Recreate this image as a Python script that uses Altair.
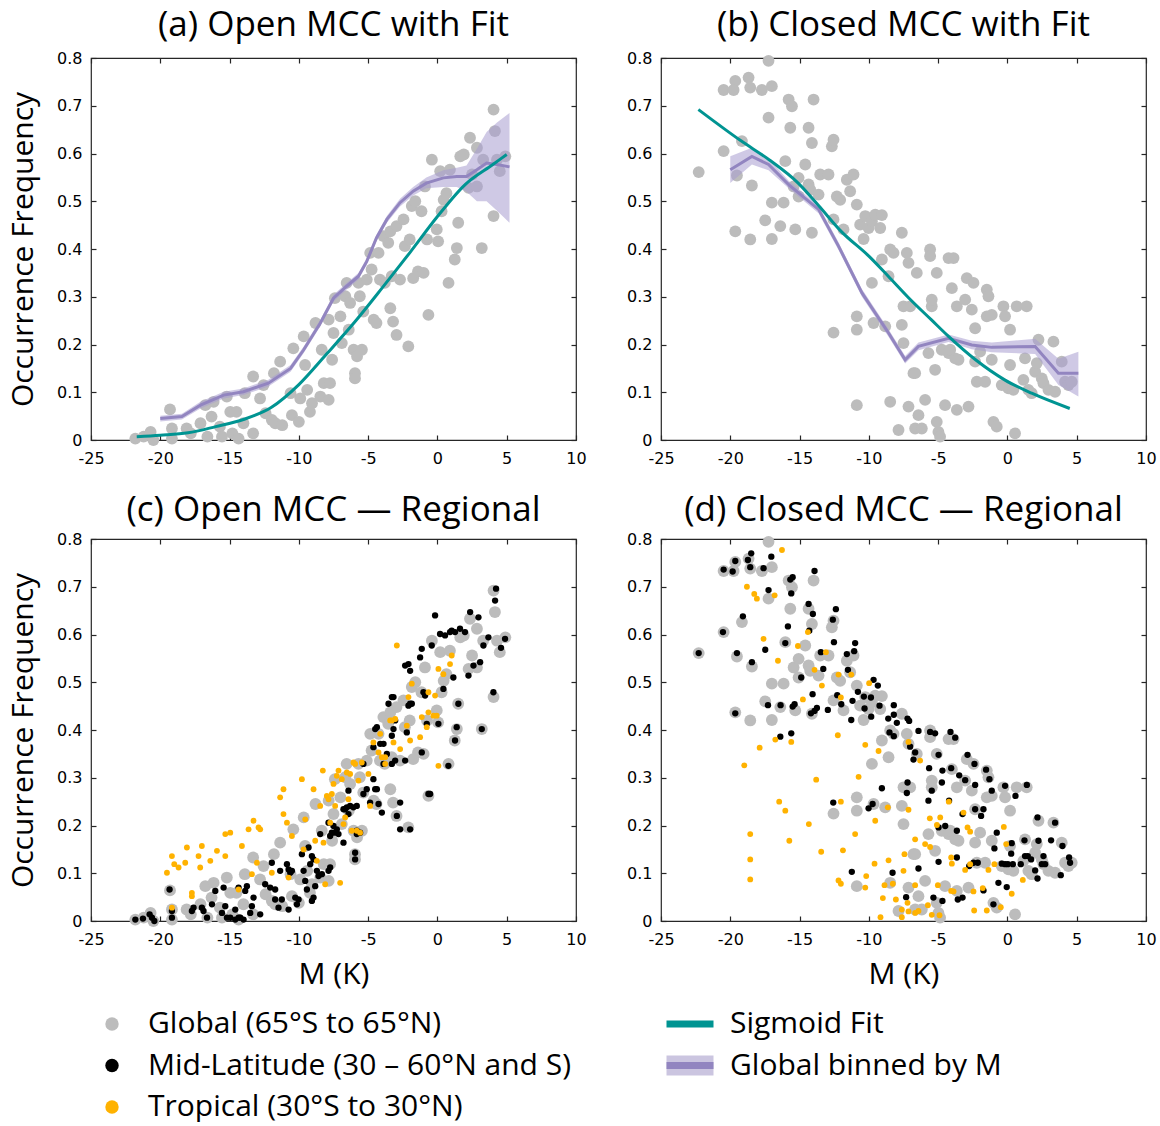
import altair as alt
import pandas as pd

# ---------------- data ----------------
# Global (65S-65N) monthly points: open MCC occurrence vs M
open_m = [-21.8, -21.2, -20.7, -20.5, -19.16, -19.3, -19.16, -18.1, -17.8, -17.1,
          -16.6, -16.75, -16.15, -16.3, -15.7, -15.55, -15.2, -14.95, -14.8, -14.5,
          -14.35, -14.0, -13.9, -13.3, -13.3, -12.8, -12.55, -12.4, -11.95, -11.8,
          -11.7, -11.35, -11.2, -10.6, -10.5, -10.4, -10.0, -9.9, -9.65, -9.55,
          -9.4, -9.2, -9.05, -8.8, -8.45, -8.35, -8.2, -7.85, -7.85, -7.75,
          -7.6, -7.5, -7.4, -7.0, -6.9, -6.65, -6.55, -6.4, -6.3, -6.05,
          -5.95, -5.95, -5.8, -5.7, -5.6, -5.45, -5.35, -5.1, -4.85, -4.75,
          -4.6, -4.4, -4.25, -4.15, -3.9, -3.8, -3.55, -3.4, -3.4, -3.3,
          -3.2, -2.95, -2.95, -2.7, -2.45, -2.35, -2.1, -2.0, -1.85, -1.75,
          -1.6, -1.4, -1.15, -1.0, -0.9, -0.75, -0.65, -0.4, -0.05, 0.05,
          0.2, 0.3, 0.45, 0.65, 0.8, 0.9, 1.25, 1.4, 1.5, 1.65,
          1.9, 2.25, 2.35, 2.5, 2.85, 2.85, 3.2, 3.3, 4.05, 4.05,
          4.15, 4.3, 4.5, 4.9]
open_f = [0.003, 0.007, 0.017, 0.0, 0.024, 0.064, 0.003, 0.024, 0.014, 0.035,
          0.007, 0.073, 0.080, 0.049, 0.028, 0.007, 0.091, 0.059, 0.014, 0.059,
          0.003, 0.035, 0.098, 0.133, 0.014, 0.087, 0.115, 0.056, 0.042, 0.140,
          0.035, 0.164, 0.031, 0.098, 0.052, 0.192, 0.038, 0.087, 0.217, 0.157,
          0.105, 0.059, 0.077, 0.245, 0.091, 0.189, 0.119, 0.084, 0.252, 0.119,
          0.168, 0.224, 0.297, 0.259, 0.203, 0.301, 0.329, 0.231, 0.287, 0.189,
          0.140, 0.129, 0.175, 0.329, 0.301, 0.189, 0.269, 0.336, 0.392, 0.357,
          0.252, 0.245, 0.392, 0.336, 0.427, 0.329, 0.413, 0.437, 0.276, 0.343,
          0.248, 0.220, 0.448, 0.336, 0.462, 0.406, 0.196, 0.420, 0.490, 0.339,
          0.500, 0.353, 0.479, 0.350, 0.531, 0.420, 0.262, 0.587, 0.441, 0.416,
          0.563, 0.479, 0.503, 0.517, 0.329, 0.566, 0.378, 0.402, 0.455, 0.594,
          0.598, 0.528, 0.633, 0.556, 0.612, 0.531, 0.402, 0.587, 0.692, 0.469,
          0.647, 0.587, 0.563, 0.594]

# Global points: closed MCC occurrence vs M
closed_m = [-22.28, -20.48, -20.48, -19.64, -19.76, -19.64, -19.52, -19.16, -18.68, -18.56,
            -18.56, -18.44, -17.72, -17.48, -17.24, -17.24, -17.0, -17.0, -17.0, -16.39,
            -16.15, -16.03, -15.79, -15.67, -15.55, -15.43, -15.31, -15.07, -15.07, -14.59,
            -14.35, -14.35, -14.23, -14.11, -14.11, -13.99, -13.63, -13.51, -12.91, -12.67,
            -12.55, -12.55, -12.55, -12.31, -12.07, -11.83, -11.59, -11.35, -11.11, -10.87,
            -10.87, -10.87, -10.87, -10.63, -10.38, -10.26, -10.02, -9.78, -9.78, -9.66,
            -9.54, -9.18, -9.06, -9.06, -8.82, -8.58, -8.46, -8.46, -8.22, -7.86,
            -7.62, -7.62, -7.5, -7.5, -7.26, -7.14, -7.14, -7.02, -6.78, -6.66,
            -6.66, -6.54, -6.42, -6.18, -5.94, -5.70, -5.58, -5.58, -5.46, -5.46,
            -5.22, -5.10, -5.10, -4.98, -4.86, -4.74, -4.50, -4.25, -4.25, -4.13,
            -4.01, -3.89, -3.77, -3.65, -3.65, -3.53, -3.05, -2.93, -2.81, -2.57,
            -2.45, -2.33, -2.33, -2.21, -1.97, -1.61, -1.49, -1.49, -1.37, -1.13,
            -1.13, -1.01, -0.77, -0.41, -0.29, -0.17, 0.07, 0.19, 0.19, 0.43,
            0.55, 0.67, 1.15, 1.27, 1.39, 1.51, 1.75, 2.0, 2.12, 2.24,
            2.48, 2.6, 2.96, 3.32, 3.44, 3.92, 4.16, 4.40, 4.64]
closed_f = [0.561, 0.733, 0.605, 0.752, 0.733, 0.437, 0.554, 0.626, 0.759, 0.738,
            0.420, 0.533, 0.733, 0.460, 0.794, 0.675, 0.741, 0.497, 0.421, 0.448,
            0.497, 0.584, 0.713, 0.654, 0.699, 0.531, 0.441, 0.510, 0.549, 0.577,
            0.535, 0.654, 0.524, 0.434, 0.622, 0.713, 0.514, 0.556, 0.556, 0.615,
            0.629, 0.462, 0.225, 0.510, 0.503, 0.441, 0.545, 0.521, 0.556, 0.493,
            0.259, 0.231, 0.073, 0.451, 0.421, 0.469, 0.444, 0.458, 0.329, 0.245,
            0.472, 0.444, 0.471, 0.378, 0.238, 0.343, 0.399, 0.080, 0.392, 0.021,
            0.241, 0.434, 0.203, 0.280, 0.392, 0.371, 0.070, 0.280, 0.140, 0.140,
            0.024, 0.350, 0.052, 0.024, 0.084, 0.182, 0.399, 0.385, 0.280, 0.294,
            0.147, 0.350, 0.038, 0.017, 0.007, 0.189, 0.073, 0.381, 0.182, 0.189,
            0.318, 0.381, 0.171, 0.280, 0.063, 0.168, 0.294, 0.339, 0.070, 0.273,
            0.329, 0.164, 0.234, 0.122, 0.185, 0.122, 0.315, 0.259, 0.301, 0.262,
            0.168, 0.038, 0.028, 0.115, 0.280, 0.259, 0.108, 0.231, 0.157, 0.105,
            0.014, 0.280, 0.126, 0.171, 0.280, 0.105, 0.098, 0.143, 0.161, 0.210,
            0.129, 0.119, 0.105, 0.206, 0.101, 0.164, 0.122, 0.115, 0.122]

# Sigmoid fits
fit_open_m = [-21.7, -20, -18, -16, -14, -12, -10, -8, -6, -4, -2, 0, 2, 4, 5]
fit_open_f = [0.007, 0.010, 0.015, 0.028, 0.043, 0.068, 0.116, 0.180, 0.246, 0.318,
              0.392, 0.468, 0.535, 0.577, 0.598]
fit_closed_m = [-22.3, -19.2, -17.2, -15.1, -13.6, -12.0, -10.0, -8.6, -7.1, -5.5,
                -4.25, -2.3, -0.2, 1.75, 4.5]
fit_closed_f = [0.692, 0.626, 0.587, 0.538, 0.490, 0.437, 0.385, 0.343, 0.297, 0.252,
                0.217, 0.168, 0.126, 0.098, 0.066]

# Global values binned by M, with spread
bin_open_m = [-20.0, -18.44, -17.1, -15.43, -14.0, -12.2, -10.6, -9.65, -8.45, -7.5,
              -6.55, -5.7, -5.1, -4.4, -3.65, -2.7, -1.75, -0.8, 0.43, 1.4,
              2.1, 2.85, 3.55, 4.3, 5.2]
bin_open_f = [0.045, 0.049, 0.073, 0.094, 0.101, 0.119, 0.150, 0.189, 0.245, 0.297,
              0.322, 0.343, 0.374, 0.423, 0.462, 0.497, 0.521, 0.538, 0.549, 0.552,
              0.552, 0.566, 0.580, 0.577, 0.572]
bin_open_lo = [0.039, 0.043, 0.066, 0.087, 0.094, 0.112, 0.143, 0.182, 0.238, 0.290,
               0.315, 0.336, 0.367, 0.416, 0.455, 0.489, 0.512, 0.527, 0.530, 0.530,
               0.520, 0.500, 0.500, 0.480, 0.455]
bin_open_hi = [0.051, 0.055, 0.080, 0.101, 0.108, 0.126, 0.157, 0.196, 0.252, 0.304,
               0.329, 0.350, 0.381, 0.430, 0.469, 0.505, 0.530, 0.550, 0.565, 0.570,
               0.575, 0.610, 0.645, 0.665, 0.685]

bin_closed_m = [-20.0, -18.44, -17.24, -15.79, -13.63, -12.19, -10.5, -8.58, -7.38, -6.42,
                -4.25, -2.57, -1.13, 2.0, 3.68, 5.12]
bin_closed_f = [0.566, 0.594, 0.577, 0.535, 0.483, 0.406, 0.308, 0.224, 0.168, 0.196,
                0.213, 0.199, 0.194, 0.196, 0.140, 0.140]
bin_closed_lo = [0.538, 0.577, 0.565, 0.527, 0.475, 0.398, 0.300, 0.216, 0.160, 0.188,
                 0.205, 0.190, 0.184, 0.180, 0.115, 0.091]
bin_closed_hi = [0.594, 0.612, 0.590, 0.543, 0.491, 0.414, 0.316, 0.232, 0.176, 0.204,
                 0.221, 0.208, 0.204, 0.212, 0.170, 0.185]

# Mid-latitude (30-60N and S) points
mid_open_m = [-21.80, -21.25, -20.77, -20.60, -20.43, -19.33, -19.16, -19.16, -17.72, -17.60,
              -17.00, -16.88, -16.63, -16.27, -16.03, -15.55, -15.43, -15.31, -15.19, -14.95,
              -14.59, -14.59, -14.35, -14.23, -13.99, -14.35, -13.87, -13.75, -13.51, -13.39,
              -13.27, -12.79, -12.43, -12.07, -11.95, -11.71, -11.71, -11.47, -11.23, -11.35,
              -10.74, -10.86, -10.74, -10.62, -10.50, -10.26, -10.14, -10.02, -9.78, -9.66,
              -9.54, -9.42, -9.30, -9.18, -9.06, -8.94, -9.06, -8.94, -8.82, -8.70,
              -8.58, -8.46, -8.34, -7.86, -7.74, -7.86, -7.74, -7.62, -7.50, -7.38,
              -7.26, -7.14, -6.78, -6.78, -6.66, -6.54, -6.42, -6.42, -6.30, -6.06,
              -5.82, -5.82, -5.94, -5.94, -5.82, -5.70, -5.58, -5.34, -5.34, -5.10,
              -4.86, -4.62, -4.49, -4.25, -4.01, -4.37, -4.62, -4.49, -4.37, -4.13,
              -3.89, -3.89, -3.65, -3.29, -3.29, -3.17, -3.05, -2.93, -2.69, -2.69,
              -2.33, -2.21, -2.09, -1.97, -2.09, -1.85, -2.33, -3.05, -3.29, -3.17,
              -3.53, -1.97, -1.13, -1.25, -1.13, -0.77, -0.53, -0.65, -0.41, -0.17,
              0.07, 0.19, 0.43, 0.55, 0.91, 1.03, 1.15, 1.27, 1.39, 1.27,
              1.51, 1.63, 1.99, 2.24, 2.36, 2.60, 2.96, 3.08, 3.32, 3.68,
              3.20, 4.04, 4.16, 4.23, 4.59, 4.88, 0.79, -1.97, -1.01, -0.89]
mid_open_f = [0.003, 0.005, 0.014, 0.007, 0.0, 0.066, 0.007, 0.021, 0.021, 0.028,
              0.028, 0.021, 0.007, 0.035, 0.063, 0.017, 0.070, 0.031, 0.007, 0.007,
              0.003, 0.024, 0.007, 0.007, 0.003, 0.070, 0.063, 0.073, 0.017, 0.031,
              0.049, 0.014, 0.077, 0.070, 0.122, 0.066, 0.045, 0.028, 0.045, 0.105,
              0.024, 0.119, 0.108, 0.101, 0.105, 0.049, 0.035, 0.045, 0.140, 0.105,
              0.084, 0.066, 0.154, 0.119, 0.136, 0.129, 0.042, 0.049, 0.073, 0.105,
              0.094, 0.182, 0.098, 0.105, 0.112, 0.206, 0.178, 0.185, 0.199, 0.185,
              0.192, 0.182, 0.164, 0.234, 0.234, 0.238, 0.273, 0.224, 0.241, 0.238,
              0.241, 0.189, 0.143, 0.129, 0.182, 0.185, 0.185, 0.329, 0.266, 0.276,
              0.248, 0.297, 0.276, 0.245, 0.227, 0.276, 0.364, 0.402, 0.406, 0.371,
              0.371, 0.329, 0.350, 0.329, 0.388, 0.402, 0.336, 0.220, 0.248, 0.192,
              0.336, 0.395, 0.451, 0.455, 0.538, 0.455, 0.535, 0.420, 0.469, 0.469,
              0.455, 0.524, 0.353, 0.552, 0.570, 0.413, 0.266, 0.266, 0.577, 0.640,
              0.413, 0.601, 0.486, 0.598, 0.605, 0.608, 0.510, 0.605, 0.406, 0.378,
              0.455, 0.612, 0.605, 0.514, 0.647, 0.535, 0.636, 0.542, 0.577, 0.594,
              0.402, 0.479, 0.671, 0.696, 0.572, 0.591, 0.325, 0.192, 0.479, 0.472]

mid_closed_m = [-22.28, -20.48, -19.83, -19.64, -18.73, -18.56, -18.49, -17.60, -17.04, -17.24,
                -15.60, -15.67, -15.50, -19.09, -20.53, -19.52, -18.44, -17.48, -16.03, -15.84,
                -14.35, -14.04, -13.92, -12.38, -12.60, -14.30, -13.46, -12.52, -13.29, -14.88,
                -14.06, -17.28, -16.37, -15.50, -15.36, -14.18, -13.92, -13.75, -12.96, -12.28,
                -11.99, -11.59, -10.99, -11.06, -11.51, -10.79, -11.18, -11.27, -10.36, -10.31,
                -9.85, -9.83, -9.66, -9.35, -9.23, -8.20, -8.60, -8.20, -7.98, -7.21,
                -7.09, -19.64, -16.39, -15.60, -8.51, -8.20, -7.02, -6.78, -6.66, -6.42,
                -5.58, -5.22, -5.65, -4.69, -4.11, -3.77, -4.97, -4.06, -3.48, -3.05,
                -2.88, -2.33, -2.38, -1.54, -1.30, -1.13, -0.17, 0.58, 1.40, -7.21,
                -7.26, -9.06, -5.70, -5.46, -4.73, -4.97, -4.49, -3.65, -3.24, -2.33,
                -1.90, -1.73, -0.77, -0.94, -0.17, 0.31, 0.27, 0.03, 0.39, 0.96,
                1.23, 1.27, 1.47, 1.71, 2.00, 2.24, 2.17, 2.60, 2.72, 2.48,
                3.15, 3.44, 3.85, 3.97, 4.45, 4.52, 2.17, -1.73, -0.65, -0.05,
                -0.41, -2.14, -2.76, -2.45, -3.65, -3.24, -3.58, -4.69, -5.34, -4.97,
                -6.42, -8.29, -11.23, -7.31, -1.01, -9.73, -10.02, -12.57, -4.21]
mid_closed_f = [0.561, 0.736, 0.732, 0.754, 0.756, 0.741, 0.770, 0.739, 0.763, 0.693,
                0.686, 0.715, 0.720, 0.638, 0.605, 0.561, 0.542, 0.568, 0.582, 0.617,
                0.664, 0.643, 0.733, 0.653, 0.631, 0.608, 0.563, 0.584, 0.528, 0.510,
                0.475, 0.452, 0.452, 0.449, 0.454, 0.435, 0.440, 0.446, 0.442, 0.473,
                0.454, 0.559, 0.582, 0.565, 0.526, 0.480, 0.461, 0.421, 0.470, 0.445,
                0.468, 0.428, 0.505, 0.493, 0.451, 0.452, 0.424, 0.432, 0.415, 0.424,
                0.419, 0.435, 0.386, 0.393, 0.395, 0.387, 0.365, 0.338, 0.353, 0.398,
                0.396, 0.393, 0.320, 0.315, 0.396, 0.384, 0.348, 0.320, 0.305, 0.295,
                0.348, 0.285, 0.329, 0.317, 0.297, 0.273, 0.283, 0.262, 0.285, 0.290,
                0.268, 0.278, 0.252, 0.273, 0.290, 0.196, 0.199, 0.189, 0.224, 0.234,
                0.220, 0.234, 0.185, 0.152, 0.119, 0.163, 0.141, 0.119, 0.119, 0.119,
                0.169, 0.136, 0.136, 0.129, 0.106, 0.168, 0.217, 0.136, 0.119, 0.119,
                0.169, 0.206, 0.096, 0.157, 0.133, 0.122, 0.089, 0.064, 0.080, 0.071,
                0.120, 0.122, 0.115, 0.122, 0.133, 0.049, 0.045, 0.042, 0.049, 0.124,
                0.110, 0.101, 0.103, 0.050, 0.035, 0.245, 0.236, 0.248, 0.252]

# Tropical (30S-30N) points
trop_open_m = [-19.52, -19.16, -18.99, -18.68, -19.16, -18.20, -18.08, -17.72, -17.72, -17.24,
               -17.12, -17.00, -16.39, -15.91, -15.31, -15.31, -14.95, -14.35, -14.11, -13.63,
               -13.27, -13.03, -12.91, -12.79, -13.39, -11.95, -11.35, -11.11, -11.11, -10.86,
               -10.74, -10.50, -9.78, -9.66, -9.54, -8.94, -8.82, -8.70, -8.46, -8.27,
               -8.22, -8.10, -7.98, -7.86, -7.74, -7.62, -7.50, -7.38, -7.26, -7.14,
               -7.02, -6.90, -6.78, -6.66, -6.54, -6.42, -6.30, -6.18, -6.06, -5.94,
               -5.82, -5.70, -5.58, -5.46, -4.98, -4.86, -4.62, -4.25, -4.13, -4.01,
               -3.77, -3.77, -3.41, -3.29, -3.17, -3.05, -2.93, -2.69, -2.21, -2.09,
               -1.97, -1.85, -1.25, -1.13, -0.77, -0.65, -0.65, -0.29, -0.17, -0.05,
               0.07, 0.07, 0.43, 0.91, 1.03]
trop_open_f = [0.101, 0.136, 0.119, 0.112, 0.028, 0.122, 0.154, 0.059, 0.052, 0.136,
               0.112, 0.157, 0.126, 0.147, 0.136, 0.182, 0.185, 0.066, 0.157, 0.192,
               0.210, 0.122, 0.196, 0.192, 0.098, 0.101, 0.259, 0.276, 0.224, 0.206,
               0.091, 0.178, 0.297, 0.150, 0.213, 0.276, 0.168, 0.126, 0.241, 0.315,
               0.164, 0.077, 0.262, 0.255, 0.206, 0.266, 0.287, 0.241, 0.304, 0.315,
               0.080, 0.297, 0.203, 0.217, 0.311, 0.255, 0.308, 0.189, 0.332, 0.329,
               0.189, 0.294, 0.185, 0.332, 0.308, 0.241, 0.374, 0.353, 0.392, 0.343,
               0.329, 0.343, 0.420, 0.420, 0.374, 0.423, 0.577, 0.360, 0.409, 0.469,
               0.378, 0.497, 0.385, 0.427, 0.406, 0.437, 0.479, 0.430, 0.472, 0.430,
               0.325, 0.528, 0.517, 0.538, 0.556]

trop_closed_m = [-16.27, -18.80, -18.27, -18.08, -16.80, -17.60, -15.12, -16.56, -14.40, -13.10,
                 -13.92, -12.19, -11.27, -13.39, -14.76, -12.02, -9.98, -12.24, -16.75, -15.60,
                 -17.88, -18.99, -10.26, -9.30, -7.14, -6.30, -13.80, -10.74, -16.47, -16.03,
                 -12.02, -8.63, -9.54, -7.14, -4.23, -5.60, -4.85, -5.09, -3.17, -2.88,
                 -2.69, -0.26, -0.09, -14.33, -18.56, -15.74, -10.99, -11.87, -13.44, -18.56,
                 -18.56, -6.66, -5.94, -5.58, -7.43, -9.59, -8.58, -4.06, -4.01, -2.69,
                 -3.05, -1.37, -0.94, 1.11, -10.19, -12.19, -12.02, -10.26, -8.87, -8.27,
                 -7.50, -6.66, -5.02, -4.06, -3.89, -2.45, -1.78, 0.31, -8.99, -8.05,
                 -7.21, -7.62, -7.14, -6.66, -6.42, -5.74, -5.46, -4.90, -2.40, -1.49,
                 -0.48, -9.16, -7.62]
trop_closed_f = [0.777, 0.700, 0.685, 0.675, 0.682, 0.591, 0.576, 0.545, 0.605, 0.563,
                 0.526, 0.516, 0.516, 0.493, 0.464, 0.468, 0.498, 0.389, 0.380, 0.375,
                 0.363, 0.326, 0.369, 0.356, 0.375, 0.336, 0.296, 0.302, 0.250, 0.231,
                 0.250, 0.238, 0.210, 0.233, 0.250, 0.215, 0.217, 0.201, 0.227, 0.196,
                 0.187, 0.197, 0.161, 0.203, 0.182, 0.168, 0.182, 0.148, 0.145, 0.129,
                 0.087, 0.171, 0.161, 0.155, 0.140, 0.120, 0.127, 0.133, 0.120, 0.119,
                 0.107, 0.107, 0.119, 0.086, 0.094, 0.085, 0.078, 0.070, 0.075, 0.078,
                 0.105, 0.075, 0.075, 0.063, 0.062, 0.062, 0.069, 0.057, 0.048, 0.045,
                 0.038, 0.024, 0.020, 0.017, 0.021, 0.033, 0.013, 0.012, 0.022, 0.022,
                 0.029, 0.008, 0.008]

# Axis ticks and labels
x_ticks = [-25, -20, -15, -10, -5, 0, 5, 10]
y_ticks = [0, 0.1, 0.2, 0.3, 0.4, 0.5, 0.6, 0.7, 0.8]
panel_titles = ["(a) Open MCC with Fit", "(b) Closed MCC with Fit",
                "(c) Open MCC \u2014 Regional", "(d) Closed MCC \u2014 Regional"]
y_title = "Occurrence Frequency"
x_title = "M (K)"
region_labels = ["Global (65\u00b0S to 65\u00b0N)", "Mid-Latitude (30 \u2013 60\u00b0N and S)",
                 "Tropical (30\u00b0S to 30\u00b0N)"]
line_labels = ["Sigmoid Fit", "Global binned by M"]

# ---------------- styling ----------------
GRAY = "#bcbcbc"
BLACK = "#000000"
ORANGE = "#ffb200"
TEAL = "#009492"
PURPLE = "#9285c0"
BAND = "#a89ccf"
BAND_KEY = "#cbc5e0"
FRAME = "#262626"
TEXT_FONT = "Open Sans"
TICK_FONT = "DejaVu Sans"
TICK = 5
W, H = 485, 382

XS = alt.Scale(domain=[-25, 10], nice=False, zero=False)
YS = alt.Scale(domain=[0, 0.8], nice=False, zero=False)


def main_x_axis():
    return alt.Axis(orient="bottom", values=x_ticks, offset=-TICK, tickSize=TICK, domain=False,
                    grid=False, labelFlush=False, labelExpr="datum.value + ''",
                    labelFont=TICK_FONT, labelFontSize=16, labelColor="black", labelPadding=10,
                    tickColor=FRAME, tickWidth=1.2, titleFont=TEXT_FONT, titleFontSize=30,
                    titleFontWeight="normal", titleColor="black", titlePadding=12,
                    minExtent=0)


def main_y_axis():
    return alt.Axis(orient="left", values=y_ticks, offset=-TICK, tickSize=TICK, domain=False,
                    grid=False, labelExpr="datum.value + ''",
                    labelFont=TICK_FONT, labelFontSize=16, labelColor="black", labelPadding=9,
                    tickColor=FRAME, tickWidth=1.2, titleFont=TEXT_FONT, titleFontSize=30,
                    titleFontWeight="normal", titleColor="black", titlePadding=18,
                    minExtent=0)


def mirror_axis(orient, vals):
    # inward ticks on the opposite edges of the frame, no labels
    return alt.Axis(orient=orient, values=vals, offset=-TICK, tickSize=TICK, domain=False,
                    grid=False, labels=False, tickColor=FRAME, tickWidth=1.2,
                    minExtent=0, maxExtent=0)


def panel(title, offset, show_x, show_y, layers_spec):
    """layers_spec: list of (DataFrame, kind, style) drawn in order."""
    charts = []
    for i, (df, kind, style) in enumerate(layers_spec):
        if i == 0:
            x = alt.X("m:Q", scale=XS, axis=main_x_axis(), title=x_title if show_x else None)
            y = alt.Y("f:Q", scale=YS, axis=main_y_axis(), title=y_title if show_y else None)
        elif i == len(layers_spec) - 1:
            x = alt.X("m:Q", scale=XS, axis=mirror_axis("top", x_ticks), title=None)
            y = alt.Y("f:Q", scale=YS, axis=mirror_axis("right", y_ticks), title=None)
        else:
            x = alt.X("m:Q", scale=XS, axis=None)
            y = alt.Y("f:Q", scale=YS, axis=None)
        base = alt.Chart(df)
        if kind == "pts":
            c = base.mark_circle(color=style[0], size=style[1], opacity=1).encode(x=x, y=y)
        elif kind == "band":
            c = base.mark_area(color=BAND, opacity=0.55).encode(
                x=x, y=alt.Y("lo:Q", scale=YS, axis=None), y2="hi:Q")
        elif kind == "fit":
            c = base.mark_line(color=style, strokeWidth=3, interpolate="monotone").encode(x=x, y=y)
        else:
            c = base.mark_line(color=style, strokeWidth=3).encode(x=x, y=y)
        charts.append(c)
    return alt.layer(*charts).properties(
        width=W, height=H,
        title=alt.TitleParams(title, font=TEXT_FONT, fontSize=35, fontWeight="normal",
                              color="black", anchor="middle", offset=offset))


def frame(m, f):
    return pd.DataFrame({"m": m, "f": f})


g_open = frame(open_m, open_f)
g_closed = frame(closed_m, closed_f)
b_open = pd.DataFrame({"m": bin_open_m, "f": bin_open_f, "lo": bin_open_lo, "hi": bin_open_hi})
b_closed = pd.DataFrame({"m": bin_closed_m, "f": bin_closed_f, "lo": bin_closed_lo,
                         "hi": bin_closed_hi})

panel_a = panel(panel_titles[0], 7, False, True, [
    (g_open, "pts", (GRAY, 140)),
    (b_open, "band", None),
    (b_open, "line", PURPLE),
    (frame(fit_open_m, fit_open_f), "fit", TEAL),
])
panel_b = panel(panel_titles[1], 7, False, False, [
    (g_closed, "pts", (GRAY, 140)),
    (b_closed, "band", None),
    (b_closed, "line", PURPLE),
    (frame(fit_closed_m, fit_closed_f), "fit", TEAL),
])
panel_c = panel(panel_titles[2], 3, True, True, [
    (g_open, "pts", (GRAY, 140)),
    (frame(mid_open_m, mid_open_f), "pts", (BLACK, 40)),
    (frame(trop_open_m, trop_open_f), "pts", (ORANGE, 34)),
])
panel_d = panel(panel_titles[3], 3, True, False, [
    (g_closed, "pts", (GRAY, 140)),
    (frame(mid_closed_m, mid_closed_f), "pts", (BLACK, 40)),
    (frame(trop_closed_m, trop_closed_f), "pts", (ORANGE, 34)),
])

# ---------------- key ----------------
reg_df = pd.DataFrame({"label": region_labels, "row": [0, 1, 2], "col": [0, 0, 0]})
line_df = pd.DataFrame({"label": line_labels, "row": [0, 1], "col": [1, 1]})
LX = alt.Scale(domain=[0, 1], range=[21, 599])
LY = alt.Scale(domain=[0, 2], range=[8, 91])
kx = alt.X("col:Q", scale=LX, axis=None)
ky = alt.Y("row:Q", scale=LY, axis=None)

key_dots = alt.Chart(reg_df).mark_circle(size=180, opacity=1).encode(
    x=kx, y=ky,
    color=alt.Color("label:N", scale=alt.Scale(domain=region_labels, range=[GRAY, BLACK, ORANGE]),
                    legend=None))
key_dot_text = alt.Chart(reg_df).mark_text(
    align="left", baseline="middle", dx=36, fontSize=30, font=TEXT_FONT, color="black"
).encode(x=kx, y=ky, text="label:N")
key_band = alt.Chart(line_df).transform_filter("datum.row == 1").mark_tick(
    orient="horizontal", size=47, thickness=20, color=BAND_KEY, opacity=1).encode(x=kx, y=ky)
key_lines = alt.Chart(line_df).mark_tick(orient="horizontal", size=47, thickness=7, opacity=1).encode(
    x=kx, y=ky,
    color=alt.Color("label:N", scale=alt.Scale(domain=line_labels, range=[TEAL, PURPLE]),
                    legend=None))
key_line_text = alt.Chart(line_df).mark_text(
    align="left", baseline="middle", dx=40, fontSize=30, font=TEXT_FONT, color="black"
).encode(x=kx, y=ky, text="label:N")

key = alt.layer(key_dots, key_dot_text, key_band, key_lines, key_line_text).resolve_scale(
    color="independent").properties(width=1000, height=95,
                                    view=alt.ViewBackground(strokeOpacity=0))

row1 = alt.hconcat(panel_a, panel_b, spacing=38)
row2 = alt.hconcat(panel_c, panel_d, spacing=38)
grid = alt.vconcat(row1, row2, spacing=25)

chart = alt.vconcat(grid, key, spacing=19).properties(
    background="white", padding={"left": 7, "top": 7, "right": 0, "bottom": 0}
).configure_view(stroke=FRAME, strokeWidth=1.2)

chart.save("out.html", embed_options={"renderer": "svg", "actions": False})
